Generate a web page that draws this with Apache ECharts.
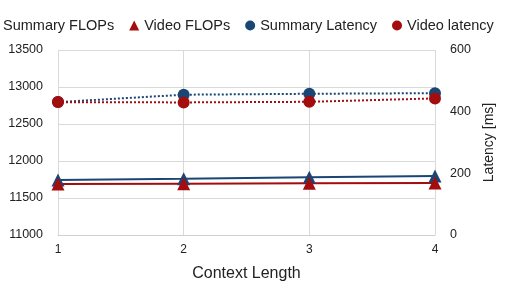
<!DOCTYPE html>
<html><head><meta charset="utf-8">
<script src="https://cdn.jsdelivr.net/npm/echarts@6/dist/echarts.min.js"></script>
<style>html,body{margin:0;padding:0;background:#fff}#c{width:509px;height:300px}</style>
</head><body><div id="c"></div>
<script>
const categories = ['1', '2', '3', '4'];
const summaryFlops = [11743, 11760, 11782, 11796];
const videoFlops = [11690, 11694, 11698, 11704];
const summaryLatency = [431, 455, 458, 460];
const videoLatency = [431, 430, 432, 443];
const leftTicks = [11000, 13500, 500];
const rightTicks = [0, 600, 200];

const blue = '#1a4675';
const red = '#a30d0d';
const font = 'Liberation Sans, Arial, sans-serif';
const chart = echarts.init(document.getElementById('c'));
chart.setOption({
  animation: false,
  textStyle: { fontFamily: font },
  legend: {
    top: 13, left: -17, width: 600, itemGap: 15, itemWidth: 10, itemHeight: 10,
    textStyle: { fontSize: 14.5, color: '#222', fontFamily: font },
    data: [
      { name: 'Summary FLOPs', icon: 'triangle' },
      { name: 'Video FLOPs', icon: 'triangle' },
      { name: 'Summary Latency', icon: 'circle' },
      { name: 'Video latency', icon: 'circle' }
    ]
  },
  grid: { left: 58, right: 74, top: 50, bottom: 65 },
  xAxis: {
    type: 'category', data: categories, boundaryGap: false,
    name: 'Context Length', nameLocation: 'middle', nameGap: 31,
    nameTextStyle: { fontSize: 16, color: '#222' },
    axisLine: { lineStyle: { color: '#d0d0d0' } },
    axisTick: { show: false },
    axisLabel: { fontSize: 12, color: '#222', margin: 9 },
    splitLine: { show: true, lineStyle: { color: '#d9d9d9' } }
  },
  yAxis: [
    {
      type: 'value', min: leftTicks[0], max: leftTicks[1], interval: leftTicks[2],
      axisLine: { show: false }, axisTick: { show: false },
      axisLabel: { fontSize: 12.5, color: '#222', margin: 15, formatter: v => String(v) },
      splitLine: { lineStyle: { color: '#d9d9d9' } }
    },
    {
      type: 'value', min: rightTicks[0], max: rightTicks[1], interval: rightTicks[2],
      name: 'Latency [ms]', nameLocation: 'middle', nameGap: 30, nameRotate: 90,
      nameTextStyle: { fontSize: 14, color: '#222' },
      axisLine: { show: false }, axisTick: { show: false },
      axisLabel: { fontSize: 12.5, color: '#222', margin: 15 },
      splitLine: { show: false }
    }
  ],
  series: [
    { name: 'Summary FLOPs', type: 'line', data: summaryFlops, yAxisIndex: 0,
      symbol: 'triangle', symbolSize: 13, color: blue,
      lineStyle: { width: 2, color: blue }, itemStyle: { color: blue } },
    { name: 'Video FLOPs', type: 'line', data: videoFlops, yAxisIndex: 0,
      symbol: 'triangle', symbolSize: 13, color: red,
      lineStyle: { width: 2, color: red }, itemStyle: { color: red } },
    { name: 'Summary Latency', type: 'line', data: summaryLatency, yAxisIndex: 1,
      symbol: 'circle', symbolSize: 12, color: blue,
      lineStyle: { width: 2, color: blue, type: 'dotted' }, itemStyle: { color: blue } },
    { name: 'Video latency', type: 'line', data: videoLatency, yAxisIndex: 1,
      symbol: 'circle', symbolSize: 12, color: red,
      lineStyle: { width: 2, color: red, type: 'dotted' }, itemStyle: { color: red } }
  ]
});
</script></body></html>
